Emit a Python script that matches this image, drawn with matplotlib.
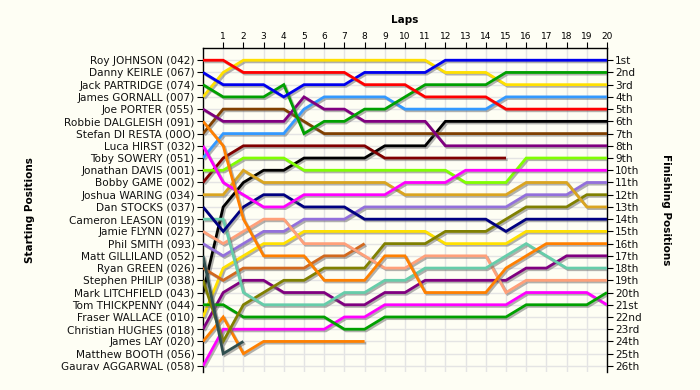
import matplotlib
matplotlib.use("Agg")
import matplotlib.pyplot as plt
import matplotlib.patheffects as pe
import numpy as np

laps = list(range(0, 21))

drivers = ["Roy JOHNSON (042)", "Danny KEIRLE (067)", "Jack PARTRIDGE (074)", "James GORNALL (007)",
           "Joe PORTER (055)", "Robbie DALGLEISH (091)", "Stefan DI RESTA (00O)", "Luca HIRST (032)",
           "Toby SOWERY (051)", "Jonathan DAVIS (001)", "Bobby GAME (002)", "Joshua WARING (034)",
           "Dan STOCKS (037)", "Cameron LEASON (019)", "Jamie FLYNN (027)", "Phil SMITH (093)",
           "Matt GILLILAND (052)", "Ryan GREEN (026)", "Stephen PHILIP (038)", "Mark LITCHFIELD (043)",
           "Tom THICKPENNY (044)", "Fraser WALLACE (010)", "Christian HUGHES (018)", "James LAY (020)",
           "Matthew BOOTH (056)", "Gaurav AGGARWAL (058)"]

finish_labels = ["1st", "2nd", "3rd", "4th", "5th", "6th", "7th", "8th", "9th", "10th", "11th", "12th",
                 "13th", "14th", "15th", "16th", "17th", "18th", "19th", "20th", "21st", "22nd", "23rd",
                 "24th", "25th", "26th"]

colors = ["#FF0000", "#0000EE", "#00A000", "#FFE000", "#800080", "#FF8000", "#804000", "#FF00FF",
          "#3399FF", "#80FF00", "#800000", "#DAA520", "#000080", "#66CDAA", "#FFA07A", "#9370DB",
          "#2F4F4F", "#D2691E", "#808000", "#000000", "#00A000", "#FFE000", "#800080", "#FF8000",
          "#FF00FF", "#FF00FF"]

roy_johnson      = [1, 1, 2, 2, 2, 2, 2, 2, 3, 3, 3, 4, 4, 4, 4, 5, 5, 5, 5, 5, 5]
danny_keirle     = [2, 3, 3, 3, 4, 3, 3, 3, 2, 2, 2, 2, 1, 1, 1, 1, 1, 1, 1, 1, 1]
jack_partridge   = [3, 4, 4, 4, 3, 7, 6, 6, 5, 5, 4, 3, 3, 3, 3, 2, 2, 2, 2, 2, 2]
james_gornall    = [4, 2, 1, 1, 1, 1, 1, 1, 1, 1, 1, 1, 2, 2, 2, 3, 3, 3, 3, 3, 3]
joe_porter       = [5, 6, 6, 6, 6, 4, 5, 5, 6, 6, 6, 6, 8, 8, 8, 8, 8, 8, 8, 8, 8]
robbie_dalgleish = [6, 8, 14, 17, 17, 17, 19, 19, 19, 17, 17, 20, 20, 20, 20, 18, 17, 16, 16, 16, 16]
stefan_di_resta  = [7, 5, 5, 5, 5, 6, 7, 7, 7, 7, 7, 7, 7, 7, 7, 7, 7, 7, 7, 7, 7]
luca_hirst       = [8, 11, 12, 13, 13, 12, 12, 12, 12, 12, 11, 11, 11, 10, 10, 10, 10, 10, 10, 10, 10]
toby_sowery      = [9, 7, 7, 7, 7, 5, 4, 4, 4, 4, 5, 5, 5, 5, 5, 4, 4, 4, 4, 4, 4]
jonathan_davis   = [10, 10, 9, 9, 9, 10, 10, 10, 10, 10, 10, 10, 10, 11, 11, 11, 9, 9, 9, 9, 9]
bobby_game       = [11, 9, 8, 8, 8, 8, 8, 8, 8, 9, 9, 9, 9, 9, 9, 9]
joshua_waring    = [12, 12, 10, 11, 11, 11, 11, 11, 11, 11, 12, 12, 12, 12, 12, 12, 11, 11, 11, 13, 13]
dan_stocks       = [13, 15, 13, 12, 12, 13, 13, 13, 14, 14, 14, 14, 14, 14, 14, 15, 14, 14, 14, 14, 14]
cameron_leason   = [14, 14, 20, 21, 21, 21, 21, 20, 20, 19, 19, 18, 18, 18, 18, 17, 16, 17, 18, 18, 18]
jamie_flynn      = [15, 16, 15, 14, 14, 16, 16, 16, 17, 18, 18, 17, 17, 17, 17, 20, 19, 19, 19, 19, 19]
phil_smith       = [16, 17, 16, 15, 15, 14, 14, 14, 13, 13, 13, 13, 13, 13, 13, 13, 12, 12, 12, 11, 11]
matt_gilliland   = [17, 25, 24]
ryan_green       = [18, 19, 18, 18, 18, 18, 17, 17, 16]
stephen_philip   = [19, 24, 21, 20, 19, 19, 18, 18, 18, 16, 16, 16, 15, 15, 15, 14, 13, 13, 13, 12, 12]
mark_litchfield  = [20, 13, 11, 10, 10, 9, 9, 9, 9, 8, 8, 8, 6, 6, 6, 6, 6, 6, 6, 6, 6]
tom_thickpenny   = [21, 21, 22, 22, 22, 22, 22, 23, 23, 22, 22, 22, 22, 22, 22, 22, 21, 21, 21, 21, 20]
fraser_wallace   = [22, 18, 17, 16, 16, 15, 15, 15, 15, 15, 15, 15, 16, 16, 16, 16, 15, 15, 15, 15, 15]
christian_hughes = [23, 20, 19, 19, 20, 20, 20, 21, 21, 20, 20, 19, 19, 19, 19, 19, 18, 18, 17, 17, 17]
james_lay        = [24, 22, 25, 24, 24, 24, 24, 24, 24]
matthew_booth    = []
gaurav_aggarwal  = [26, 23, 23, 23, 23, 23, 23, 22, 22, 21, 21, 21, 21, 21, 21, 21, 20, 20, 20, 20, 21]

series = [roy_johnson, danny_keirle, jack_partridge, james_gornall, joe_porter, robbie_dalgleish,
          stefan_di_resta, luca_hirst, toby_sowery, jonathan_davis, bobby_game, joshua_waring,
          dan_stocks, cameron_leason, jamie_flynn, phil_smith, matt_gilliland, ryan_green,
          stephen_philip, mark_litchfield, tom_thickpenny, fraser_wallace, christian_hughes,
          james_lay, matthew_booth, gaurav_aggarwal]

BG = "#FEFEF4"
fig = plt.figure(figsize=(7.0, 3.9), dpi=100, facecolor=BG)
ax = fig.add_axes([203/700, 1-372/390, (607-203)/700, (372-48)/390])
ax.set_facecolor(BG)

n = len(drivers)
ax.set_xlim(0, 20)
ax.set_ylim(26.5, 0)

# grid
for x in laps[1:]:
    ax.axvline(x, color="#E4E4E4", lw=1.0, zorder=0)
for y in range(1, n + 1):
    ax.axhline(y, color="#E4E4E4", lw=1.0, zorder=0)

shadow = [pe.SimpleLineShadow(offset=(1.2, -1.2), shadow_color="#666666", alpha=0.5), pe.Normal()]
for i in range(n - 1, -1, -1):
    pos = series[i]
    if not pos:
        continue
    ax.plot(laps[:len(pos)], pos, color=colors[i], lw=2.0, solid_joinstyle="miter",
            solid_capstyle="butt", path_effects=shadow, zorder=3)

# axes styling
for s in ["left", "right", "top"]:
    ax.spines[s].set_color("black")
    ax.spines[s].set_linewidth(1.0)
ax.spines["bottom"].set_visible(False)

ax.xaxis.tick_top()
ax.set_xticks(laps[1:])
ax.set_xticklabels([str(l) for l in laps[1:]], fontsize=6.5, family="DejaVu Sans")
ax.tick_params(axis="x", direction="out", length=4, width=0.8, pad=1)

ax.set_yticks(range(1, n + 1))
ax.set_yticklabels(drivers, fontsize=7.6, family="DejaVu Sans", color="#111111")
ax.tick_params(axis="y", direction="out", length=4, width=0.8, pad=2)

ax2 = ax.twinx()
ax2.set_ylim(26.5, 0)
ax2.set_yticks(range(1, n + 1))
ax2.set_yticklabels(finish_labels, fontsize=7.6, family="DejaVu Sans", color="#111111")
ax2.tick_params(axis="y", direction="out", length=4, width=0.8, pad=2)
for s in ["left", "right", "top", "bottom"]:
    ax2.spines[s].set_visible(False)

fig.text(405/700, 1-20/390, "Laps", ha="center", va="center", fontsize=7.5, fontweight="bold")
fig.text(30/700, 1-210/390, "Starting Positions", ha="center", va="center", rotation=90,
         fontsize=7.5, fontweight="bold")
fig.text(666/700, 1-210/390, "Finishing Positions", ha="center", va="center", rotation=270,
         fontsize=7.5, fontweight="bold")

fig.savefig("out.png", dpi=100, facecolor=BG)
